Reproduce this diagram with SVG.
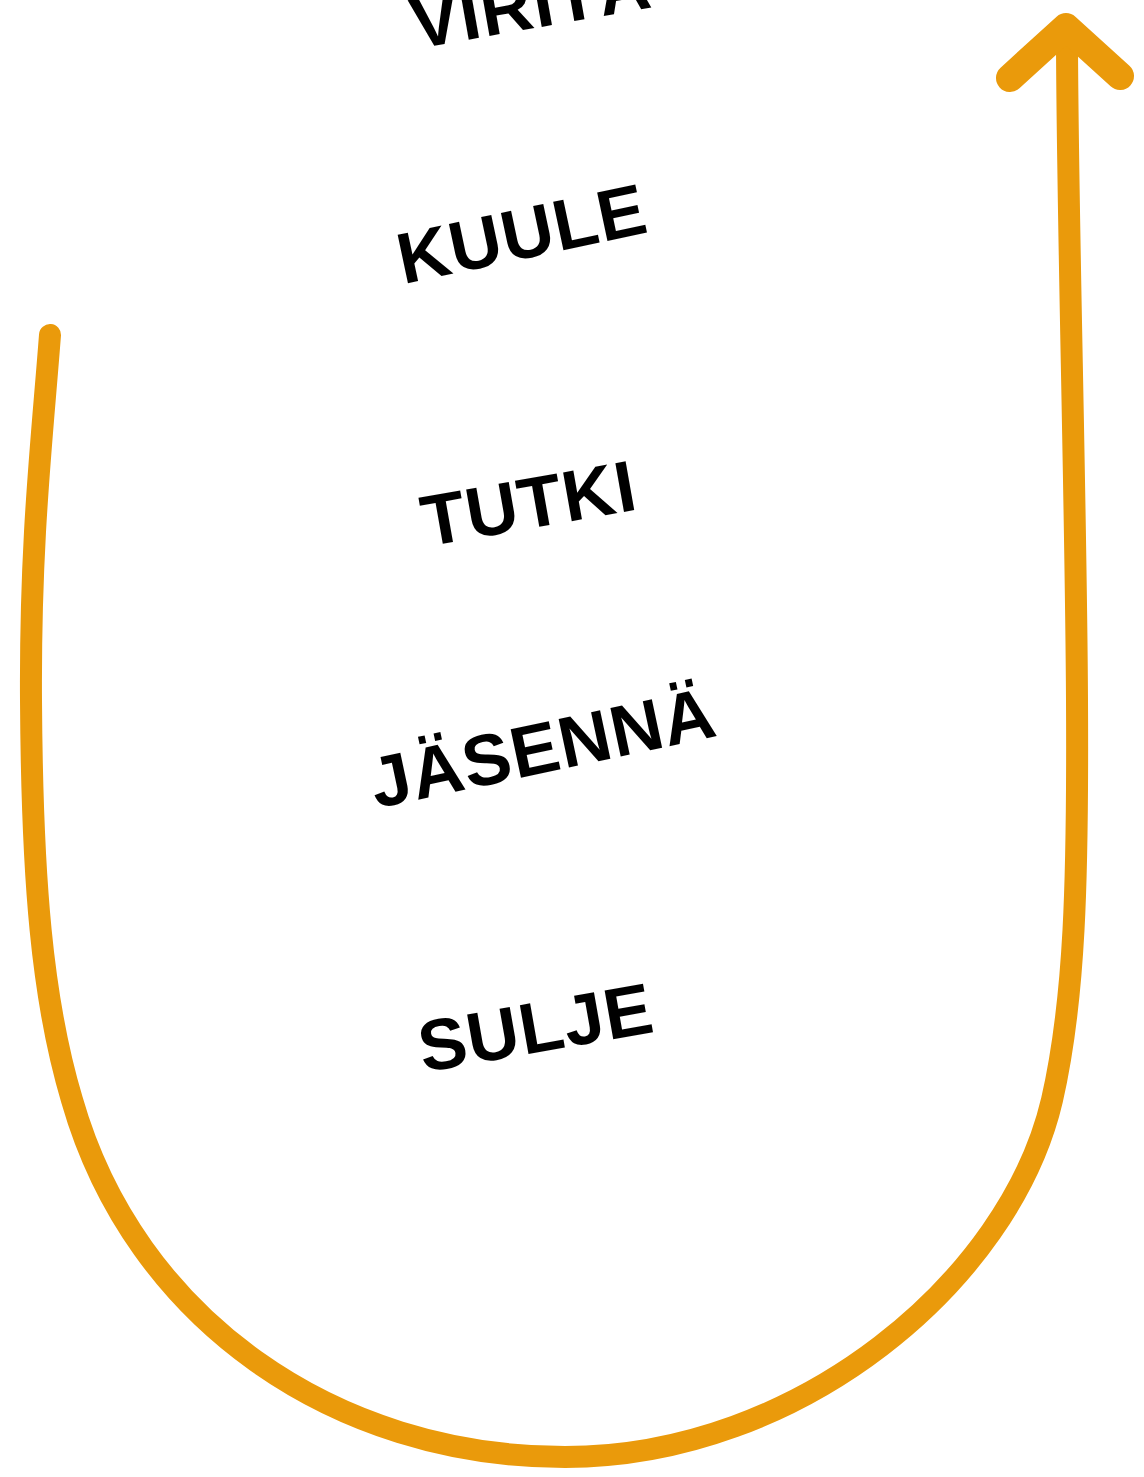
<svg xmlns="http://www.w3.org/2000/svg" width="1144" height="1477" viewBox="0 0 1144 1477">
<style>
.lbl{font-family:"Liberation Sans",Arial,sans-serif;font-size:72px;font-weight:bold;fill:#000;text-anchor:middle;letter-spacing:1px}
.arr{fill:none;stroke:#EA9A0B;stroke-width:22;stroke-linecap:round;stroke-linejoin:round}
.head{fill:none;stroke:#EA9A0B;stroke-width:28;stroke-linecap:round;stroke-linejoin:round}
</style>
<rect width="1144" height="1477" fill="#fff"/>
<g id="connectors">
<path class="arr" d="M50,335 C42,440 30,540 31,700 C32,880 42,1000 72,1100 C135,1320 335,1457 565,1457 C800,1457 1010,1280 1052,1100 C1075,1000 1078,880 1077,700 C1076,500 1067,200 1067,35"/>
<path class="head" d="M1010,78 L1066,27 L1120,76"/>
</g>
<g id="n-viritae"><text class="lbl" transform="translate(535,28) rotate(-10)">VIRITÄ</text></g>
<g id="n-kuule"><text class="lbl" transform="translate(527,258) rotate(-12)">KUULE</text></g>
<g id="n-tutki"><text class="lbl" transform="translate(533,528) rotate(-10)">TUTKI</text></g>
<g id="n-jaesennae"><text class="lbl" transform="translate(548,772) rotate(-12)">JÄSENNÄ</text></g>
<g id="n-sulje"><text class="lbl" transform="translate(540,1052) rotate(-10)">SULJE</text></g>
</svg>
